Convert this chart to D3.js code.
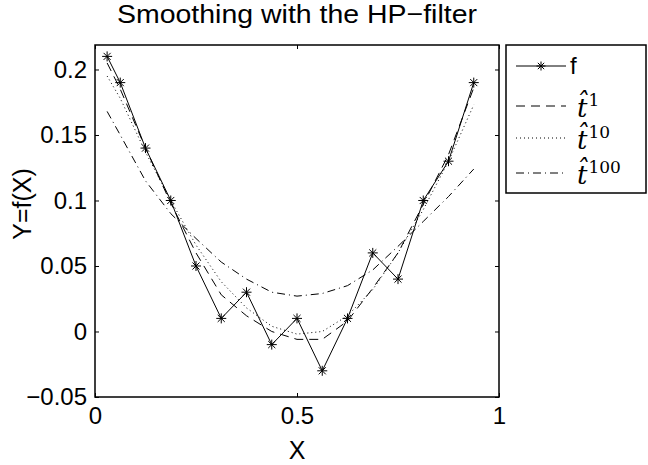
<!DOCTYPE html>
<html>
<head>
<meta charset="utf-8">
<script src="https://cdn.jsdelivr.net/npm/d3@7"></script>
<style>
body { margin: 0; background: #fff; }
text { font-family: "Liberation Sans", Arial, sans-serif; fill: #000; }
.serif { font-family: "DejaVu Serif", "Liberation Serif", serif; }
</style>
</head>
<body>
<svg id="chart" width="648" height="465"></svg>
<script>
// data
const xs   = [0.03, 0.0625, 0.125, 0.1875, 0.25, 0.3125, 0.375, 0.4375, 0.5, 0.5625, 0.625, 0.6875, 0.75, 0.8125, 0.875, 0.9375]
const f    = [0.21, 0.19, 0.14, 0.10, 0.05, 0.01, 0.03, -0.01, 0.01, -0.03, 0.01, 0.06, 0.04, 0.10, 0.13, 0.19]
const t1   = [0.205, 0.185, 0.140, 0.098, 0.060, 0.028, 0.012, 0.000, -0.006, -0.006, 0.008, 0.033, 0.060, 0.097, 0.135, 0.186]
const t10  = [0.195, 0.178, 0.137, 0.100, 0.066, 0.038, 0.018, 0.004, -0.002, 0.000, 0.012, 0.032, 0.060, 0.093, 0.130, 0.173]
const t100 = [0.168, 0.150, 0.115, 0.090, 0.071, 0.053, 0.040, 0.030, 0.027, 0.029, 0.035, 0.047, 0.065, 0.084, 0.103, 0.124]
const xTicks = [0, 0.5, 1]
const yTicks = [-0.05, 0, 0.05, 0.1, 0.15, 0.2]
const legendLabels = ["1", "10", "100"]

const svg = d3.select("#chart")
const plotL = 95, plotR = 499, plotT = 45, plotB = 397

const x = d3.scaleLinear().domain([0, 1]).range([plotL, plotR])
const y = d3.scaleLinear().domain([-0.05, 0.2187]).range([plotB, plotT])

// title
svg.append("text")
    .attr("x", (plotL + plotR) / 2).attr("y", 23)
    .attr("text-anchor", "middle")
    .attr("font-size", 26)
    .attr("textLength", 360).attr("lengthAdjust", "spacingAndGlyphs")
    .text("Smoothing with the HP\u2212filter")

// axes with ticks pointing inwards
const fmt = d => d < 0 ? "\u2212" + String(-d) : String(d)

svg.append("g").attr("transform", `translate(0,${plotB})`)
    .call(d3.axisBottom(x).tickValues(xTicks).tickSize(-4).tickPadding(10).tickFormat(fmt))
svg.append("g").attr("transform", `translate(0,${plotT})`)
    .call(d3.axisTop(x).tickValues(xTicks).tickSize(-4).tickFormat(""))
svg.append("g").attr("transform", `translate(${plotL},0)`)
    .call(d3.axisLeft(y).tickValues(yTicks).tickSize(-4).tickPadding(8).tickFormat(fmt))
svg.append("g").attr("transform", `translate(${plotR},0)`)
    .call(d3.axisRight(y).tickValues(yTicks).tickSize(-4).tickFormat(""))

svg.selectAll(".domain").remove()
svg.selectAll(".tick line").attr("stroke", "#000").attr("stroke-width", 1)
svg.selectAll(".tick text").attr("font-size", 24).attr("font-family", "Liberation Sans, Arial, sans-serif")

svg.append("rect")
    .attr("x", plotL).attr("y", plotT)
    .attr("width", plotR - plotL).attr("height", plotB - plotT)
    .attr("fill", "none").attr("stroke", "#000").attr("stroke-width", 1.5)

// axis labels
svg.append("text")
    .attr("x", (plotL + plotR) / 2).attr("y", 459)
    .attr("text-anchor", "middle").attr("font-size", 25)
    .text("X")
svg.append("text")
    .attr("transform", "translate(31,204) rotate(-90)")
    .attr("text-anchor", "middle").attr("font-size", 25)
    .text("Y=f(X)")

// series
const line = d3.line().x((d, i) => x(xs[i])).y(d => y(d))
const styles = [
    { data: t1, dash: "9,6" },
    { data: t10, dash: "1,3" },
    { data: t100, dash: "8,4,1,4" }
]
styles.forEach(s => {
    svg.append("path")
        .datum(s.data)
        .attr("d", line)
        .attr("fill", "none")
        .attr("stroke", "#000")
        .attr("stroke-width", 1)
        .attr("stroke-dasharray", s.dash)
})

svg.append("path")
    .datum(f)
    .attr("d", line)
    .attr("fill", "none")
    .attr("stroke", "#000")
    .attr("stroke-width", 1)

const star = (r) => {
    let p = ""
    for (let k = 0; k < 4; k++) {
        const a = k * Math.PI / 4
        const dx = r * Math.cos(a), dy = r * Math.sin(a)
        p += `M${-dx},${-dy}L${dx},${dy}`
    }
    return p
}

svg.append("g").selectAll("path")
    .data(f)
    .join("path")
    .attr("transform", (d, i) => `translate(${x(xs[i])},${y(d)})`)
    .attr("d", star(5))
    .attr("stroke", "#000")
    .attr("stroke-width", 1)
    .attr("fill", "none")

// legend
const lg = svg.append("g")
lg.append("rect")
    .attr("x", 506).attr("y", 45)
    .attr("width", 140).attr("height", 148)
    .attr("fill", "#fff").attr("stroke", "#000").attr("stroke-width", 1.5)

const rowY = [66, 106, 138, 173]
lg.append("line").attr("x1", 516).attr("x2", 566).attr("y1", rowY[0]).attr("y2", rowY[0])
    .attr("stroke", "#000").attr("stroke-width", 1)
lg.append("path").attr("transform", `translate(541,${rowY[0]})`).attr("d", star(4.5))
    .attr("stroke", "#000").attr("stroke-width", 1)
lg.append("text").attr("x", 570).attr("y", rowY[0] + 8).attr("font-size", 24).text("f")

styles.forEach((s, i) => {
    const yy = rowY[i + 1]
    lg.append("line").attr("x1", 516).attr("x2", 566).attr("y1", yy).attr("y2", yy)
        .attr("stroke", "#000").attr("stroke-width", 1).attr("stroke-dasharray", s.dash)
    const t = lg.append("text").attr("class", "serif").attr("x", 577).attr("y", yy + 11)
    t.append("tspan").attr("font-style", "italic").attr("font-size", 26).text("t\u0302")
    t.append("tspan").attr("font-size", 17).attr("dy", -11).attr("dx", 1).text(legendLabels[i])
})
</script>
</body>
</html>
